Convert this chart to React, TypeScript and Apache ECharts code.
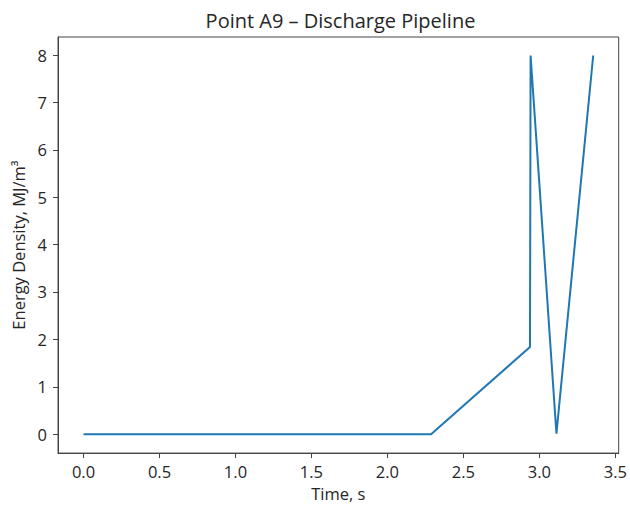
import React, { useEffect, useRef } from "react";
import * as echarts from "echarts";

const timeS = [0.0, 2.287, 2.938, 2.942, 3.112, 3.354];
const energyDensity = [0.0, 0.0, 1.84, 7.99, 0.01, 7.99];
const xTicks = [0, 0.5, 1.0, 1.5, 2.0, 2.5, 3.0, 3.5];
const yTicks = [0, 1, 2, 3, 4, 5, 6, 7, 8];

const FONT = "Open Sans";
const TXT = "#262626";
const SPINE = "#444";

export default function App() {
  const ref = useRef<HTMLDivElement>(null);
  useEffect(() => {
    document.body.style.margin = "0";
    const chart = echarts.init(ref.current!, null, { renderer: "svg" });
    const data = timeS.map((t, i) => [t, energyDensity[i]]);
    chart.setOption({
      animation: false,
      backgroundColor: "#ffffff",
      graphic: [
        {
          type: "text",
          x: 340.5,
          y: 20,
          style: {
            text: "Point A9 – Discharge Pipeline",
            fontFamily: FONT,
            fontSize: 20,
            fill: TXT,
            align: "center",
            verticalAlign: "middle",
          },
        },
      ],
      grid: {
        left: 58,
        right: 7,
        top: 37,
        bottom: 50,
        show: true,
        borderColor: SPINE,
        borderWidth: 1,
        backgroundColor: "transparent",
      },
      xAxis: {
        type: "value",
        min: -0.1677,
        max: 3.5217,
        name: "Time, s",
        nameLocation: "middle",
        nameGap: 29,
        nameTextStyle: { fontFamily: FONT, fontSize: 16.5, color: TXT },
        axisLine: { show: true, onZero: false, lineStyle: { color: SPINE } },
        splitLine: { show: false },
        axisTick: {
          show: true,
          length: 5,
          customValues: xTicks,
          lineStyle: { color: SPINE },
        },
        axisLabel: {
          customValues: xTicks,
          formatter: (v: number) => v.toFixed(1),
          fontFamily: FONT,
          fontSize: 16.5,
          color: TXT,
          margin: 10,
        },
      },
      yAxis: {
        type: "value",
        min: -0.4,
        max: 8.38,
        name: "Energy Density, MJ/m³",
        nameLocation: "middle",
        nameGap: 30,
        nameTextStyle: { fontFamily: FONT, fontSize: 16.5, color: TXT },
        axisLine: { show: true, onZero: false, lineStyle: { color: SPINE } },
        splitLine: { show: false },
        axisTick: {
          show: true,
          length: 5,
          customValues: yTicks,
          lineStyle: { color: SPINE },
        },
        axisLabel: {
          customValues: yTicks,
          formatter: (v: number) => String(v),
          fontFamily: FONT,
          fontSize: 16.5,
          color: TXT,
          margin: 11,
        },
      },
      series: [
        {
          type: "line",
          data,
          showSymbol: false,
          symbol: "none",
          lineStyle: { color: "#1f77b4", width: 2 },
          silent: true,
        },
      ],
    });
    return () => chart.dispose();
  }, []);
  return (
    <div
      ref={ref}
      style={{ position: "absolute", left: 0, top: 0, width: 630, height: 507 }}
    />
  );
}
